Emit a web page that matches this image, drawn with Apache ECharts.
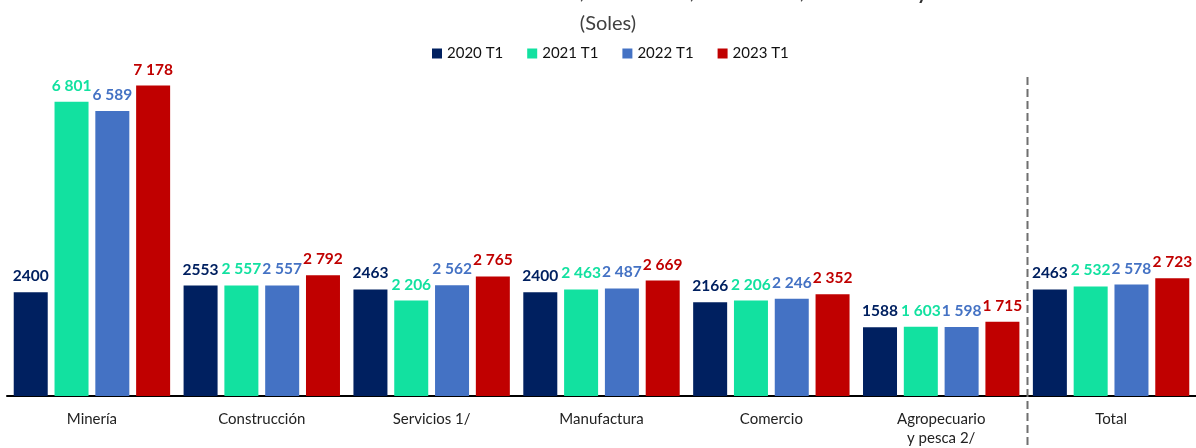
<!DOCTYPE html>
<html>
<head>
<meta charset="utf-8">
<script src="https://cdn.jsdelivr.net/npm/echarts@6/dist/echarts.min.js"></script>
<style>
  html, body { margin: 0; padding: 0; background: #fff; }
  #chart { width: 1196px; height: 448px; }
</style>
</head>
<body>
<div id="chart"></div>
<script>
// rama de actividad
const categories = ['Minería', 'Construcción', 'Servicios 1/', 'Manufactura', 'Comercio', 'Agropecuario\ny pesca 2/', 'Total']
const periods = ['2020 T1', '2021 T1', '2022 T1', '2023 T1']

const v2020 = [2400, 2553, 2463, 2400, 2166, 1588, 2463]
const v2021 = [6801, 2557, 2206, 2463, 2206, 1603, 2532]
const v2022 = [6589, 2557, 2562, 2487, 2246, 1598, 2578]
const v2023 = [7178, 2792, 2765, 2669, 2352, 1715, 2723]

const colors = ['#002060', '#12E1A0', '#4472C4', '#C00000']
const font = 'Lato, "Noto Sans", sans-serif'

// 2020 sin separador de miles, el resto con espacio
const plain = p => String(p.value)
const spaced = p => String(p.value).replace(/\B(?=(\d{3})+(?!\d))/g, ' ')

function makeSeries(name, data, color, formatter) {
  return {
    name: name,
    type: 'bar',
    data: data,
    barWidth: 34,
    barGap: '20%',
    itemStyle: { color: color },
    label: {
      show: true,
      position: 'top',
      distance: 8,
      color: color,
      fontFamily: font,
      fontWeight: 'bold',
      fontSize: 15.5,
      formatter: formatter
    },
    animation: false
  }
}

const chart = echarts.init(document.getElementById('chart'))

chart.setOption({
  title: [{
    // el titulo queda casi fuera del recorte, solo asoman los trazos inferiores
    text: 'Nacional, 2020 T1, 2021 T1, 2022 T1 y 2023 T1',
    left: 475,
    top: -28,
    textStyle: { fontFamily: font, fontSize: 26, fontWeight: 'normal', color: '#303030' }
  }, {
    text: '(Soles)',
    left: 603,
    textAlign: 'center',
    top: 9,
    textStyle: { fontFamily: font, fontSize: 20, fontWeight: 'normal', color: '#404040' }
  }],
  legend: {
    data: periods,
    top: 41,
    left: 427,
    itemWidth: 10,
    itemHeight: 10,
    itemGap: 24,
    icon: 'rect',
    textStyle: { fontFamily: font, fontSize: 15, color: '#111' }
  },
  grid: {
    top: 50,
    bottom: 48,
    left: 7,
    right: -5.5,
    containLabel: false
  },
  xAxis: {
    type: 'category',
    data: categories,
    axisLine: { lineStyle: { color: '#000', width: 2 } },
    axisTick: { show: false },
    axisLabel: {
      interval: 0,
      margin: 14,
      fontFamily: font,
      fontSize: 15,
      lineHeight: 19,
      color: '#222'
    }
  },
  yAxis: {
    type: 'value',
    min: 0,
    max: 8000,
    show: false,
    splitLine: { show: false }
  },
  series: [
    makeSeries(periods[0], v2020, colors[0], plain),
    makeSeries(periods[1], v2021, colors[1], spaced),
    makeSeries(periods[2], v2022, colors[2], spaced),
    makeSeries(periods[3], v2023, colors[3], spaced)
  ]
})

// separador punteado entre los sectores y el Total
const pA = chart.convertToPixel({ xAxisIndex: 0 }, categories[5])
const pB = chart.convertToPixel({ xAxisIndex: 0 }, categories[6])
const sepX = Math.round((pA + pB) / 2) + 1.5
chart.setOption({
  graphic: [{
    type: 'line',
    shape: { x1: sepX, y1: 77, x2: sepX, y2: 448 },
    style: { stroke: '#6f6f6f', lineWidth: 2, lineDash: [8, 4] },
    z: 10
  }]
})
</script>
</body>
</html>
